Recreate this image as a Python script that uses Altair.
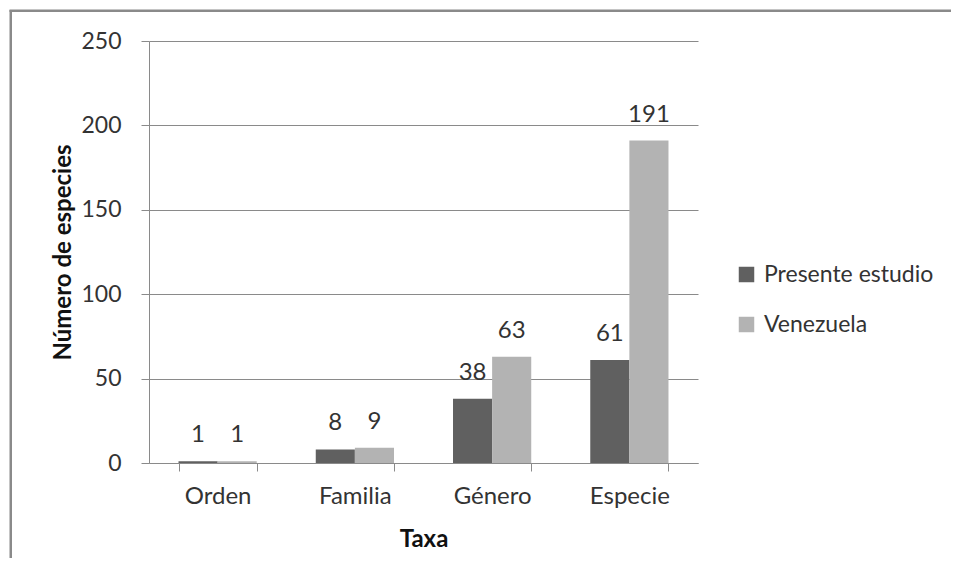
import altair as alt
import pandas as pd

categories = ["Orden", "Familia", "Género", "Especie"]
series_names = ["Presente estudio", "Venezuela"]
presente = [1, 8, 38, 61]
venezuela = [1, 9, 63, 191]
y_ticks = [0, 50, 100, 150, 200, 250]

rows = []
for i, c in enumerate(categories):
    rows.append({"Taxa": c, "Serie": series_names[0], "Valor": presente[i]})
    rows.append({"Taxa": c, "Serie": series_names[1], "Valor": venezuela[i]})
df = pd.DataFrame(rows)

FONT = "Lato"
TXT = "#333333"
GRAY = "#8a8a8a"

one = pd.DataFrame({"k": [0]})
frame_left = alt.Chart(one).mark_rect(color=GRAY).encode(
    x=alt.value(-139.5), x2=alt.value(-137), y=alt.value(-31), y2=alt.value(517)
)
frame_top = alt.Chart(one).mark_rect(color=GRAY).encode(
    x=alt.value(-139.5), x2=alt.value(802), y=alt.value(-31.5), y2=alt.value(-29)
)

x_enc = alt.X(
    "Taxa:N", sort=categories,
    scale=alt.Scale(paddingInner=0.43, paddingOuter=0.215),
    axis=alt.Axis(
        title="Taxa", labelAngle=0, tickBand="extent", tickSize=8,
        labelPadding=13, labelFontSize=24, labelFont=FONT, labelColor=TXT,
        titleFont=FONT, titleFontSize=24, titleFontWeight="bold", titleColor="#111111",
        titleX=274.5, titleY=76, titleBaseline="middle",
        domainColor=GRAY, tickColor=GRAY, grid=False,
    ),
)
xo_enc = alt.XOffset("Serie:N", sort=series_names,
                     scale=alt.Scale(paddingInner=0, paddingOuter=0))
y_enc = alt.Y(
    "Valor:Q",
    scale=alt.Scale(domain=[0, 250], nice=False),
    axis=alt.Axis(
        title="Número de especies", values=y_ticks, tickSize=8, labelPadding=20,
        labelFontSize=23, labelFont=FONT, labelColor=TXT,
        titleFont=FONT, titleFontSize=24, titleFontWeight="bold", titleColor="#111111",
        titleX=-86, titleY=211, titleAngle=-90, titleBaseline="middle", titleAlign="center",
        domainColor=GRAY, tickColor=GRAY, grid=True, gridColor=GRAY,
    ),
)

bars = alt.Chart(df).mark_bar().encode(
    x=x_enc, xOffset=xo_enc, y=y_enc,
    color=alt.Color(
        "Serie:N", sort=series_names,
        scale=alt.Scale(domain=series_names, range=["#606060", "#b3b3b3"]),
        legend=alt.Legend(
            title=None, orient="none", legendX=586, legendY=222,
            symbolType="square", symbolSize=240, symbolStrokeWidth=0,
            labelFont=FONT, labelFontSize=23, labelColor=TXT, labelOffset=6,
            labelLimit=400, rowPadding=26,
        ),
    ),
)

labels = alt.Chart(df).mark_text(
    baseline="alphabetic", dy=-19, font=FONT, fontSize=24, color=TXT
).encode(
    x=alt.X("Taxa:N", sort=categories), xOffset=alt.XOffset("Serie:N", sort=series_names),
    y="Valor:Q", text="Valor:Q",
)

chart = alt.layer(frame_left, frame_top, bars, labels).properties(
    width=549, height=422,
    autosize=alt.AutoSizeParams(type="none"),
    padding={"left": 141, "top": 33, "right": 253, "bottom": 95},
    background="white",
).configure_view(stroke=None)

chart.save("out.html", embed_options={"renderer": "svg", "actions": False})
